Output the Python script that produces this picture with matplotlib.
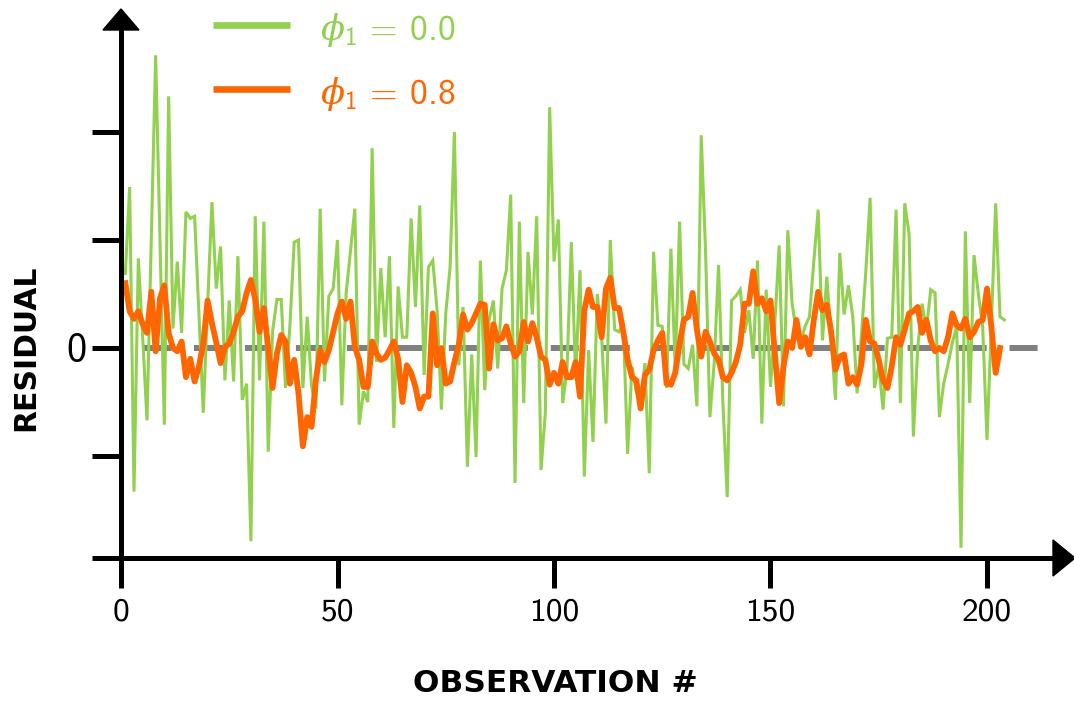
import matplotlib
matplotlib.use("Agg")
import matplotlib.pyplot as plt
from matplotlib.lines import Line2D
from matplotlib.patches import Polygon

# ---------------------------------------------------------------- data
obs_phi0 = list(range(1, 205))
resid_phi0 = [
    0.69, 1.49, -1.33, 0.83, 0.10, -0.67, 1.00, 2.71, 1.00, -0.71,
    2.33, 0.18, 0.80, 0.14, 1.26, 1.20, 1.22, 0.30, -0.60, 0.40,
    1.35, 0.55, 0.94, -0.30, 0.44, -0.31, 0.85, -0.48, -0.33, -1.79,
    1.22, -0.30, 1.17, -0.96, 0.15, 0.45, 0.45, -0.37, 0.20, 0.98,
    1.00, -0.37, 0.29, -0.35, -0.56, 1.29, -0.31, 0.48, 0.55, 1.00,
    -0.53, 0.51, 0.90, 1.29, -0.71, -0.40, -0.50, 1.85, -0.13, 0.74,
    0.10, 0.85, -0.74, 0.57, 0.10, 0.10, 1.20, 0.38, 1.32, -0.25,
    0.75, 0.81, 0.35, -0.57, 0.32, 0.75, 2.00, -0.16, 0.38, -1.10,
    -0.06, -1.01, 0.81, -0.39, 0.26, 0.44, -0.19, 0.55, 0.72, 1.42,
    -1.25, 1.17, -0.51, 0.89, 0.31, 1.22, -1.13, -0.60, 2.23, 0.80,
    1.19, -0.51, -0.20, 0.98, -0.28, 0.72, -1.19, -0.02, -0.87, 0.50,
    0.10, -0.70, 1.00, 0.17, 0.15, 0.23, -0.98, -0.17, -0.40, -0.51,
    -0.14, -1.16, 0.89, 0.21, 0.20, -0.37, 0.92, -0.19, 1.17, -0.15,
    -0.19, 0.03, -0.54, 1.97, 0.90, -0.64, -0.14, 0.77, -0.50, -1.38,
    0.44, 0.48, 0.54, 0.14, 0.35, -0.10, 0.81, -0.70, 0.54, -0.36,
    0.23, 0.95, -0.54, 1.09, 0.41, 0.14, 0.07, 0.20, 0.29, 0.80,
    1.28, 0.07, 0.66, 0.10, -0.48, 0.88, 0.31, 0.58, 0.29, -0.42,
    0.12, 0.70, 1.39, -0.37, -0.16, -0.57, 0.09, 0.10, 1.28, -0.51,
    1.34, 1.06, -0.82, 0.00, 0.41, 0.17, 0.54, 0.51, -0.64, -0.33,
    -0.15, 0.05, 0.20, -1.85, 1.08, -0.51, 0.86, 0.50, 0.20, -0.85,
    0.20, 1.34, 0.29, 0.26,
]

obs_phi08 = list(range(1, 204))
resid_phi08 = [
    0.60, 0.34, 0.27, 0.34, 0.22, 0.14, 0.52, -0.03, 0.46, 0.58,
    0.14, 0.00, -0.03, 0.06, -0.27, -0.10, -0.31, -0.17, 0.04, 0.44,
    0.23, 0.05, -0.14, 0.01, 0.04, 0.15, 0.29, 0.34, 0.51, 0.63,
    0.45, 0.15, 0.37, 0.00, -0.37, -0.05, 0.12, 0.06, -0.33, -0.11,
    -0.42, -0.91, -0.64, -0.73, -0.30, -0.02, -0.13, -0.02, 0.15, 0.32,
    0.43, 0.27, 0.43, 0.01, -0.11, -0.36, -0.36, 0.06, -0.05, -0.11,
    -0.09, -0.02, 0.06, -0.10, -0.50, -0.16, -0.23, -0.36, -0.56, -0.45,
    -0.45, 0.32, -0.16, 0.00, -0.33, -0.31, -0.13, 0.03, 0.31, 0.17,
    0.23, 0.32, 0.41, 0.40, -0.19, 0.22, 0.07, 0.09, 0.20, 0.04,
    -0.08, -0.03, 0.24, 0.06, 0.23, 0.10, -0.08, -0.11, -0.34, -0.23,
    -0.33, -0.13, -0.27, -0.27, -0.13, -0.45, 0.35, 0.54, 0.38, 0.38,
    0.10, 0.55, 0.65, 0.37, 0.37, 0.15, -0.11, -0.27, -0.30, -0.56,
    -0.25, -0.20, -0.02, 0.07, 0.14, -0.33, -0.34, -0.23, 0.04, 0.26,
    0.29, 0.51, 0.17, -0.08, 0.15, 0.06, -0.05, -0.11, -0.27, -0.30,
    -0.23, -0.13, 0.03, 0.41, 0.41, 0.71, 0.41, 0.46, 0.34, 0.44,
    -0.05, -0.51, -0.17, 0.06, 0.00, 0.26, 0.01, 0.10, -0.06, 0.26,
    0.52, 0.35, 0.40, 0.15, -0.20, -0.08, -0.06, -0.33, -0.27, -0.34,
    -0.15, 0.26, 0.06, 0.04, -0.11, -0.30, -0.37, -0.17, 0.10, 0.03,
    0.17, 0.32, 0.34, 0.38, 0.14, 0.26, 0.07, -0.03, 0.00, -0.03,
    0.10, 0.32, 0.21, 0.18, 0.27, 0.10, 0.15, 0.24, 0.26, 0.55,
    0.20, -0.23, 0.00,
]

zero_line_span = [5.1, 212.9]
x_ticks = [0, 50, 100, 150, 200]
y_ticks = [-1, 0, 1, 2]
y_tick_labels = ["", "0", "", ""]
series_labels = [r"$\phi_1\,=\,0.0$", r"$\phi_1\,=\,0.8$"]
x_title = "OBSERVATION #"
y_title = "RESIDUAL"

# ---------------------------------------------------------------- style
GREEN = "#92D050"
ORANGE = "#FF6600"
GRAY = "#808080"
BLACK = "black"
SANS = "cmss10"
plt.rcParams["mathtext.fontset"] = "custom"
plt.rcParams["mathtext.rm"] = SANS
plt.rcParams["mathtext.sf"] = SANS
plt.rcParams["mathtext.it"] = "DejaVu Serif:italic"
plt.rcParams["lines.scale_dashes"] = False

W, H = 1074, 702
fig = plt.figure(figsize=(W / 100, H / 100), dpi=100)

# axes geometry in pixels (origin at top-left of the canvas)
X0_PX, Y0_PX = 121, 348          # where x=0 and y=0 sit
PX_PER_X, PX_PER_Y = 4.33, 108
BOTTOM_PX, TOP_PX = 558, 20
XMAX = 220
ax = fig.add_axes([X0_PX / W, 1 - BOTTOM_PX / H,
                   XMAX * PX_PER_X / W, (BOTTOM_PX - TOP_PX) / H])
ax.set_xlim(0, XMAX)
ax.set_ylim((Y0_PX - BOTTOM_PX) / PX_PER_Y, (Y0_PX - TOP_PX) / PX_PER_Y)
for s in ax.spines.values():
    s.set_visible(False)
ax.patch.set_alpha(0)

# reference line at zero
ax.plot(zero_line_span, [0, 0], color=GRAY, lw=4.3, dashes=(20.2, 16.5),
        solid_capstyle="butt", dash_capstyle="butt", zorder=1)

# residual series
ax.plot(obs_phi0, resid_phi0, color=GREEN, lw=2.2, zorder=2,
        solid_joinstyle="miter")
ax.plot(obs_phi08, resid_phi08, color=ORANGE, lw=4.2, zorder=3,
        solid_joinstyle="round")

# ticks
ax.set_xticks(x_ticks)
ax.set_xticklabels([str(t) for t in x_ticks], family=SANS)
ax.set_yticks(y_ticks)
ax.set_yticklabels(y_tick_labels, family=SANS)
ax.tick_params(axis="x", length=21.6, width=3.6, pad=7, labelsize=24,
               direction="out", color=BLACK)
ax.tick_params(axis="y", length=20.9, width=3.6, pad=4, labelsize=29,
               direction="out", color=BLACK)


# axis lines with arrow heads (figure pixel geometry)
def fx(px):
    return px / W


def fy(py):
    return 1 - py / H


fig.add_artist(Line2D([fx(92), fx(1056)], [fy(558), fy(558)], lw=3.6,
                      color=BLACK, solid_capstyle="butt"))
fig.add_artist(Line2D([fx(121), fx(121)], [fy(560), fy(28)], lw=3.6,
                      color=BLACK, solid_capstyle="butt"))
fig.add_artist(Polygon([(fx(1053), fy(540)), (fx(1075), fy(558)),
                        (fx(1053), fy(576))], closed=True, color=BLACK,
                       transform=fig.transFigure))
fig.add_artist(Polygon([(fx(103), fy(30)), (fx(121), fy(9)),
                        (fx(139), fy(30))], closed=True, color=BLACK,
                       transform=fig.transFigure))

# axis titles
fig.text(fx(555), fy(684), x_title, ha="center", va="center",
         fontsize=22.5, fontweight="bold", family="DejaVu Sans")
fig.text(fx(26), fy(348), y_title, ha="center", va="center", rotation=90,
         fontsize=21.5, fontweight="bold", family="DejaVu Sans")

# legend: line samples with coloured labels
legend_rows = [(GREEN, 25), (ORANGE, 89)]
for (col, py), label in zip(legend_rows, series_labels):
    fig.add_artist(Line2D([fx(213), fx(290)], [fy(py), fy(py)], lw=4.8,
                          color=col, solid_capstyle="butt"))
    fig.text(fx(320), fy(py + 5), label, color=col, ha="left",
             va="center", fontsize=25.5)

fig.savefig("out.png", dpi=100)
